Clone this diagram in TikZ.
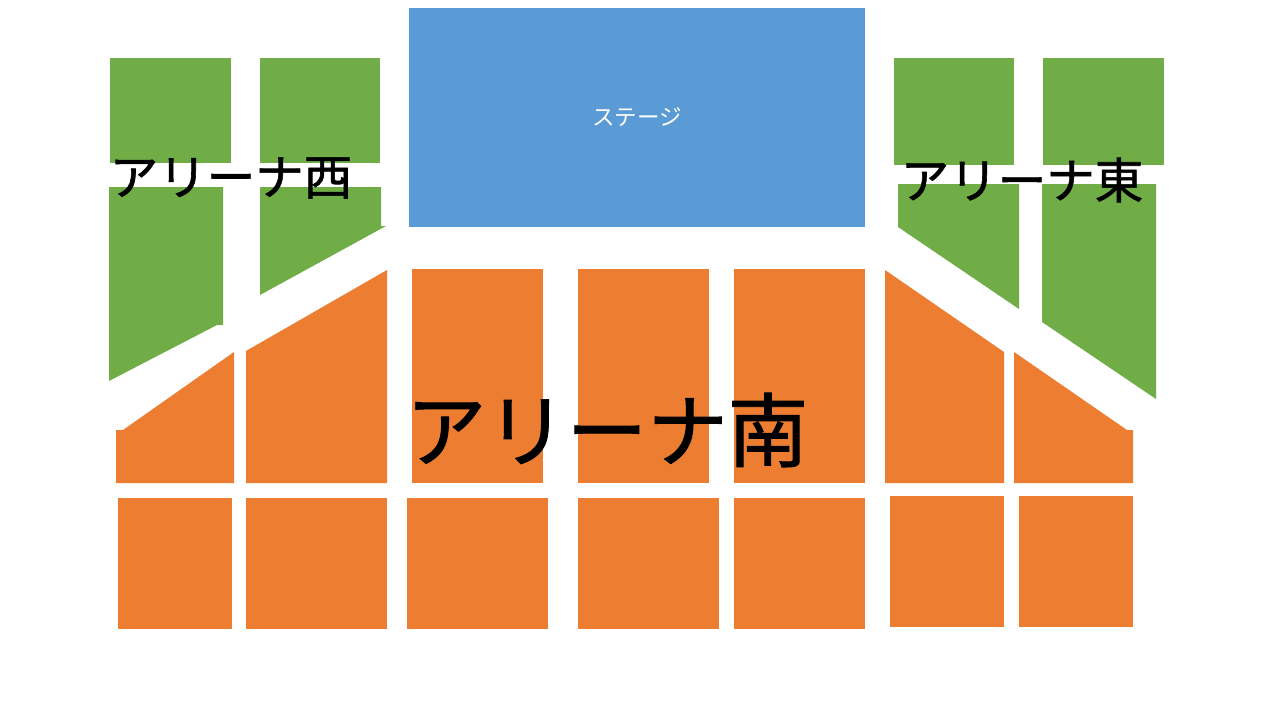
\documentclass[tikz,border=0pt]{standalone}
\usepackage{fontspec}
\newfontfamily\jpfont[FakeBold=1.2]{Noto Sans CJK JP}
\newfontfamily\jpfontthin{Noto Sans CJK JP}
\definecolor{seatgreen}{HTML}{70AD47}
\definecolor{seatorange}{HTML}{ED7D31}
\definecolor{stageblue}{HTML}{5B9BD5}
\begin{document}
\begin{tikzpicture}[x=1pt,y=-1pt,
  green/.style={fill=seatgreen},
  orange/.style={fill=seatorange},
  stagefill/.style={fill=stageblue},
  label/.style={inner sep=0pt}]
\useasboundingbox (0,0) rectangle (1280,720);
\fill[white] (0,0) rectangle (1280,720);
% stage
\fill[stagefill] (409,8) rectangle (865,227);
\node[label, text=white, font=\jpfontthin\fontsize{22.5}{22.5}\selectfont] (stage) at (637,117) {ステージ};
% west green
\fill[green] (110,58) rectangle (231,163);
\fill[green] (260,58) rectangle (380,163);
\fill[green] (109,187) -- (223,187) -- (223,325) -- (217,325) -- (109,381) -- cycle;
\fill[green] (260,187) -- (381,187) -- (381,226) -- (386,226) -- (260,295) -- cycle;
% east green
\fill[green] (894,58) rectangle (1014,165);
\fill[green] (1043,58) rectangle (1164,165);
\fill[green] (898,184) -- (1019,184) -- (1019,309) -- (898,227) -- cycle;
\fill[green] (1042,184) -- (1156,184) -- (1156,399) -- (1042,322) -- cycle;
% south orange upper row
\fill[orange] (116,483) -- (116,430) -- (123,430) -- (234,352) -- (234,483) -- cycle;
\fill[orange] (246,483) -- (246,351) -- (387,270) -- (387,483) -- cycle;
\fill[orange] (412,269) rectangle (543,483);
\fill[orange] (578,269) rectangle (709,483);
\fill[orange] (734,269) rectangle (865,483);
\fill[orange] (885,483) -- (885,270) -- (1004,352) -- (1004,483) -- cycle;
\fill[orange] (1014,483) -- (1014,352) -- (1127,430) -- (1133,430) -- (1133,483) -- cycle;
% south orange lower row
\fill[orange] (118,498) rectangle (232,629);
\fill[orange] (246,498) rectangle (387,629);
\fill[orange] (407,498) rectangle (548,629);
\fill[orange] (578,498) rectangle (719,629);
\fill[orange] (734,498) rectangle (865,629);
\fill[orange] (890,496) rectangle (1004,627);
\fill[orange] (1019,496) rectangle (1133,627);
% labels
\node[label, font=\jpfont\fontsize{48.5}{48.5}\selectfont] (west) at (231,178) {アリーナ西};
\node[label, font=\jpfont\fontsize{48.5}{48.5}\selectfont] (east) at (1022,180) {アリーナ東};
\node[label, font=\jpfont\fontsize{80.5}{80.5}\selectfont] (south) at (607,430) {アリーナ南};
\end{tikzpicture}
\end{document}
